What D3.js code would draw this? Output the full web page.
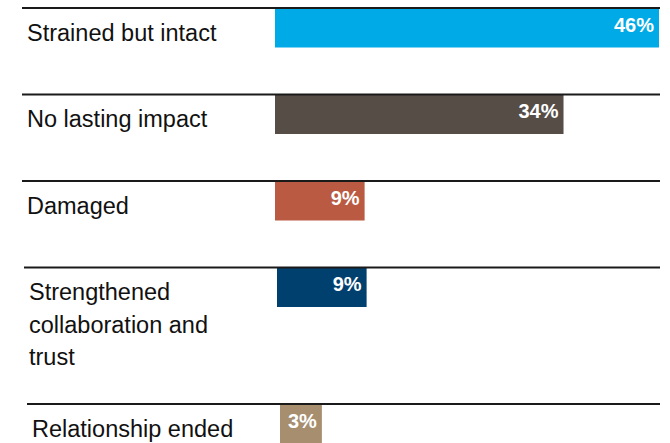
<!DOCTYPE html>
<html>
<head>
<meta charset="utf-8">
<script src="https://cdn.jsdelivr.net/npm/d3@7/dist/d3.min.js"></script>
<style>
  html, body { margin: 0; padding: 0; background: #fff; }
  svg { display: block; }
  .cat { font-family: "Liberation Sans", Arial, Helvetica, sans-serif; font-size: 23.5px; fill: #111; }
  .val { font-family: "Liberation Sans", Arial, Helvetica, sans-serif; font-size: 20px; font-weight: bold; fill: #fff; }
</style>
</head>
<body>
<svg id="chart" width="670" height="443"></svg>
<script>
// Outcome categories, with the line breaks used for their labels
const categories = [
  "Strained but intact",
  "No lasting impact",
  "Damaged",
  "Strengthened collaboration and trust",
  "Relationship ended"
];
const categoryLines = [
  ["Strained but intact"],
  ["No lasting impact"],
  ["Damaged"],
  ["Strengthened", "collaboration and", "trust"],
  ["Relationship ended"]
];
// Share of respondents (%)
const values = [46, 34, 9, 9, 3];
const barColors = ["#00aae7", "#564d47", "#ba5a42", "#00406e", "#a68e6e"];

const width = 670, height = 443;
const svg = d3.select("#chart");

// Row layout: a taller row for multi-line labels; lower rows sit slightly indented
const rowBase = 86.5, extraLine = 25, firstTop = 8;
const rowIndent = [0, 0, 0, 2, 5];
const rowTops = [];
let acc = firstTop;
categoryLines.forEach(lines => {
  rowTops.push(acc);
  acc += rowBase + (lines.length - 1) * extraLine;
});

// Bars start at a common baseline with a short stub before zero,
// so even the smallest share leaves room for its label
const barStart = 275, stub = 18;
const x = d3.scaleLinear()
  .domain([0, d3.max(values)])
  .range([barStart + stub, 659]);

const barH = 39.5;
const fmt = v => d3.format("d")(v) + "%";

const data = categories.map((c, i) => ({
  cat: c, lines: categoryLines[i], value: values[i], color: barColors[i],
  top: rowTops[i], indent: rowIndent[i]
}));

const row = svg.selectAll("g.row")
  .data(data)
  .join("g")
  .attr("class", "row")
  .attr("transform", d => `translate(${d.indent},0)`);

// Bars
row.append("rect")
  .attr("x", barStart)
  .attr("y", d => d.top)
  .attr("width", d => x(d.value) - barStart)
  .attr("height", barH)
  .attr("fill", d => d.color);

// Rule above each row
row.append("line")
  .attr("x1", 22)
  .attr("x2", d => 660 - d.indent)
  .attr("y1", d => d.top)
  .attr("y2", d => d.top)
  .attr("stroke", "#1a1a1a")
  .attr("stroke-width", 2);

// Category labels
row.append("text")
  .attr("class", "cat")
  .attr("x", 27)
  .attr("y", d => d.top + 32.5)
  .selectAll("tspan")
  .data(d => d.lines)
  .join("tspan")
  .attr("x", 27)
  .attr("dy", (d, i) => i === 0 ? 0 : 32.5)
  .text(d => d);

// Value labels inside bar ends
row.append("text")
  .attr("class", "val")
  .attr("text-anchor", "end")
  .attr("x", d => x(d.value) - 5)
  .attr("y", d => d.top + 23.5)
  .text(d => fmt(d.value));
</script>
</body>
</html>
